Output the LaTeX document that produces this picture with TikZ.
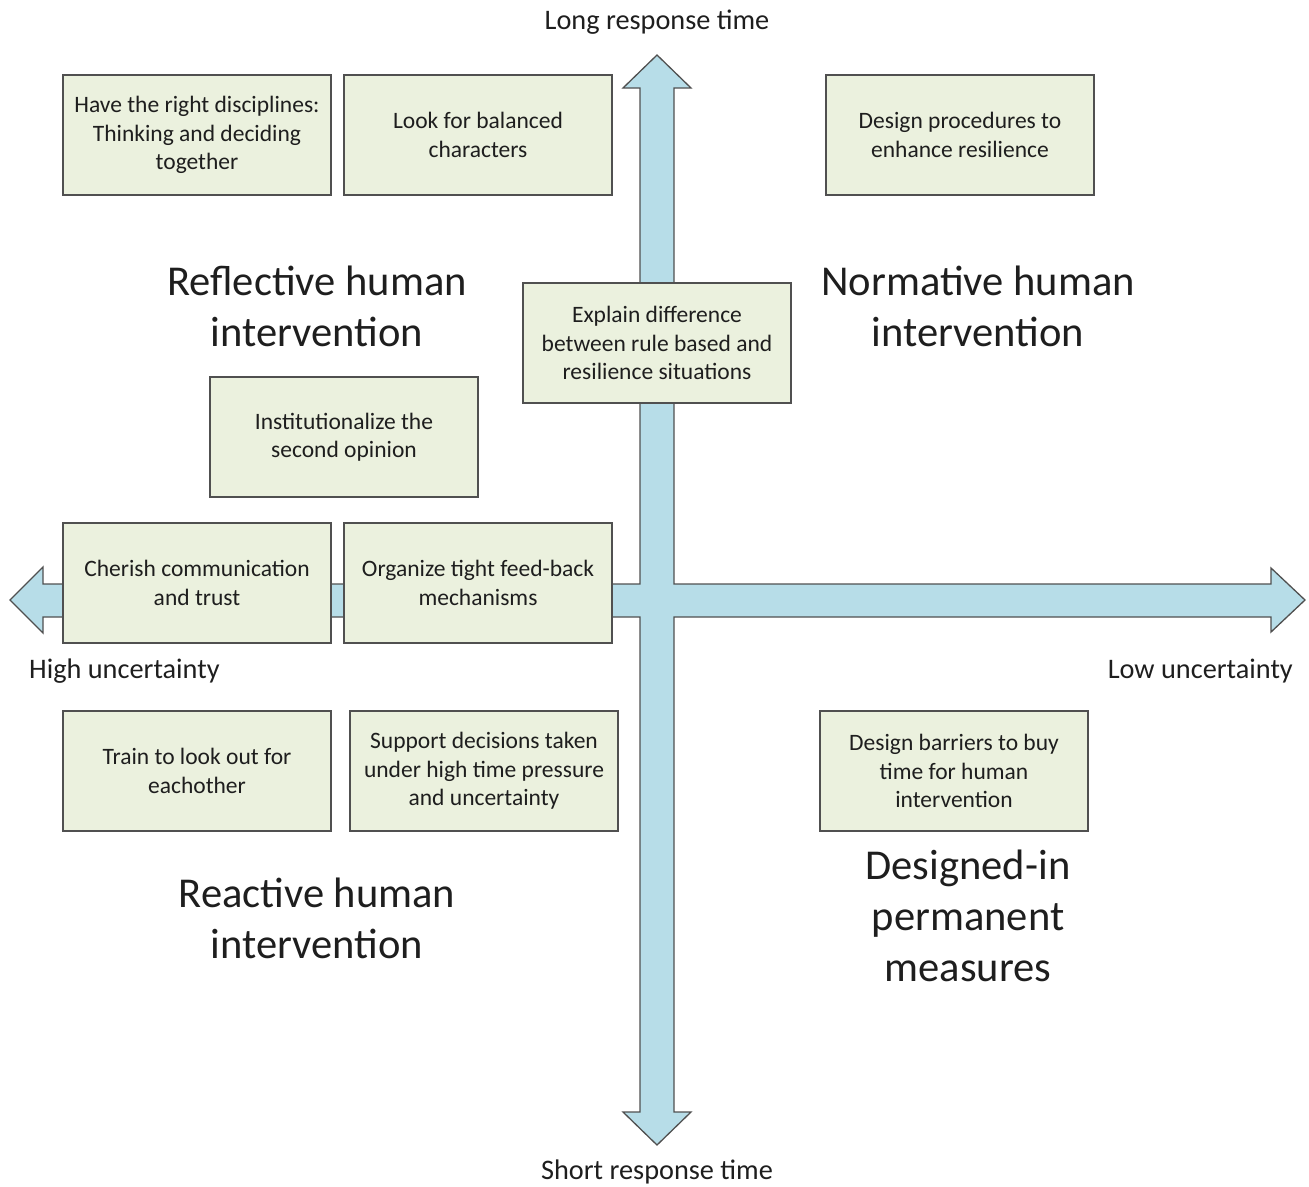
\documentclass[tikz,border=0pt]{standalone}
\usepackage{fontspec}
\setmainfont{Carlito}
\usepackage{tikz}

\definecolor{axisblue}{RGB}{183,221,232}
\definecolor{boxgreen}{RGB}{235,241,222}
\definecolor{edgegray}{RGB}{80,80,80}
\definecolor{inkgray}{RGB}{30,30,30}

\begin{document}
\begin{tikzpicture}[x=1bp, y=-1bp,
  measure/.style={draw=edgegray, line width=1.2bp, fill=boxgreen, text=inkgray,
    minimum width=268bp, minimum height=120bp, inner sep=0pt, align=center,
    font=\fontsize{23.6}{28.5}\selectfont},
  axislabel/.style={text=inkgray, inner sep=0pt, font=\fontsize{28.4}{30}\selectfont},
  quadrant/.style={text=inkgray, inner sep=0pt, align=center, font=\fontsize{42.7}{51}\selectfont}]
\useasboundingbox (0,0) rectangle (1309,1186);

% the two axes as one cross
\draw[edgegray, line width=1.3bp, fill=axisblue, line join=miter]
  (657,55) -- (691,88) -- (674,88) -- (674,584) -- (1271,584) -- (1271,568)
  -- (1305,600) -- (1271,632) -- (1271,617) -- (674,617) -- (674,1112)
  -- (691,1112) -- (657,1145) -- (623,1112) -- (640,1112) -- (640,617)
  -- (43,617) -- (43,633) -- (10,600) -- (43,567) -- (43,584) -- (640,584)
  -- (640,88) -- (623,88) -- cycle;

\node[axislabel] (longlbl) at (657,22) {Long response time};
\node[axislabel] (shortlbl) at (657,1172) {Short response time};
\node[axislabel, anchor=west] (highlbl) at (29,671) {High uncertainty};
\node[axislabel, anchor=east] (lowlbl) at (1293,671) {Low uncertainty};

\node[quadrant] (reflective) at (317,306) {Reflective human\\intervention};
\node[quadrant] (normative) at (978,306) {Normative human\\intervention};
\node[quadrant] (reactive) at (317,918) {Reactive human\\intervention};
\node[quadrant] (designed) at (968,916) {Designed-in\\permanent\\measures};

\node[measure] (disciplines) at (197,135) {Have the right disciplines:\\Thinking and deciding\\together};
\node[measure] (balanced) at (478,135) {Look for balanced\\characters};
\node[measure] (procedures) at (960,135) {Design procedures to\\enhance resilience};
\node[measure] (explain) at (657,343) {Explain difference\\between rule based and\\resilience situations};
\node[measure] (opinion) at (344,437) {Institutionalize the\\second opinion};
\node[measure] (cherish) at (197,583) {Cherish communication\\and trust};
\node[measure] (feedback) at (478,583) {Organize tight feed-back\\mechanisms};
\node[measure] (eachother) at (197,771) {Train to look out for\\eachother};
\node[measure] (pressure) at (484,771) {Support decisions taken\\under high time pressure\\and uncertainty};
\node[measure] (barriers) at (954,771) {Design barriers to buy\\time for human\\intervention};

\end{tikzpicture}
\end{document}
